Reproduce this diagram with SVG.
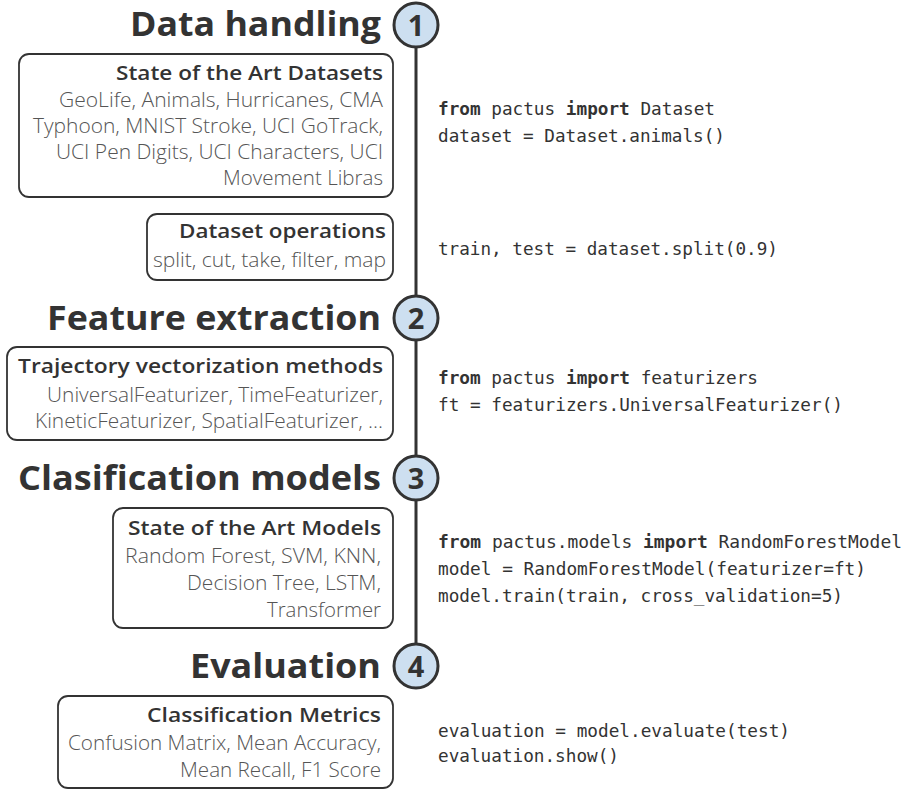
<svg xmlns="http://www.w3.org/2000/svg" width="920" height="791" viewBox="0 0 920 791">
<style>
.title{font-family:"Open Sans","Noto Sans",sans-serif;font-weight:700;font-size:34px;fill:#333;text-anchor:end}
.sub{font-family:"Open Sans","Noto Sans",sans-serif;font-weight:600;font-size:20.5px;fill:#333;text-anchor:end}
.body{font-family:"Open Sans","Noto Sans",sans-serif;font-weight:300;font-size:20px;fill:#555;text-anchor:end}
.box{fill:#fff;stroke:#333;stroke-width:1.8}
.step{fill:#cddff0;stroke:#333;stroke-width:3}
.num{font-family:"Open Sans","Noto Sans",sans-serif;font-weight:700;font-size:29px;fill:#333;text-anchor:middle}
.code{font-family:"DejaVu Sans Mono","Liberation Mono",monospace;font-size:18.5px;fill:#333}
.kw{font-weight:700}
</style>
<rect width="920" height="791" fill="#fff"/>
<g id="connectors">
<line x1="416" y1="25" x2="416" y2="666" stroke="#333" stroke-width="3"/>
</g>
<g id="step1">
<text class="title" x="381" y="36" textLength="251" lengthAdjust="spacingAndGlyphs">Data handling</text>
<circle class="step" cx="416" cy="25" r="22"/>
<text class="num" x="416" y="35.5">1</text>
</g>
<g id="datasets">
<rect class="box" x="19" y="54" width="374" height="143" rx="10"/>
<text class="sub" x="383" y="80" textLength="267" lengthAdjust="spacingAndGlyphs">State of the Art Datasets</text>
<text class="body" x="383" y="107" textLength="324" lengthAdjust="spacingAndGlyphs">GeoLife, Animals, Hurricanes, CMA</text>
<text class="body" x="383" y="133" textLength="350" lengthAdjust="spacingAndGlyphs">Typhoon, MNIST Stroke, UCI GoTrack,</text>
<text class="body" x="383" y="159" textLength="327" lengthAdjust="spacingAndGlyphs">UCI Pen Digits, UCI Characters, UCI</text>
<text class="body" x="383" y="185" textLength="160" lengthAdjust="spacingAndGlyphs">Movement Libras</text>
</g>
<g id="code1">
<text class="code" x="438" y="115" textLength="277" lengthAdjust="spacingAndGlyphs"><tspan class="kw">from</tspan> pactus <tspan class="kw">import</tspan> Dataset</text>
<text class="code" x="438" y="142" textLength="287" lengthAdjust="spacingAndGlyphs">dataset = Dataset.animals()</text>
</g>
<g id="operations">
<rect class="box" x="147" y="214" width="246" height="66" rx="10"/>
<text class="sub" x="386" y="238" textLength="207" lengthAdjust="spacingAndGlyphs">Dataset operations</text>
<text class="body" x="386" y="267" textLength="233" lengthAdjust="spacingAndGlyphs">split, cut, take, filter, map</text>
</g>
<g id="code2">
<text class="code" x="438" y="255" textLength="340" lengthAdjust="spacingAndGlyphs">train, test = dataset.split(0.9)</text>
</g>
<g id="step2">
<text class="title" x="381" y="330" textLength="334" lengthAdjust="spacingAndGlyphs">Feature extraction</text>
<circle class="step" cx="416" cy="318" r="22"/>
<text class="num" x="416" y="328.5">2</text>
</g>
<g id="vectorization">
<rect class="box" x="7" y="347" width="386" height="93" rx="10"/>
<text class="sub" x="383" y="373" textLength="365" lengthAdjust="spacingAndGlyphs">Trajectory vectorization methods</text>
<text class="body" x="383" y="402" textLength="336" lengthAdjust="spacingAndGlyphs">UniversalFeaturizer, TimeFeaturizer,</text>
<text class="body" x="383" y="428" textLength="348" lengthAdjust="spacingAndGlyphs">KineticFeaturizer, SpatialFeaturizer, ...</text>
</g>
<g id="code3">
<text class="code" x="438" y="384" textLength="320" lengthAdjust="spacingAndGlyphs"><tspan class="kw">from</tspan> pactus <tspan class="kw">import</tspan> featurizers</text>
<text class="code" x="438" y="411" textLength="405" lengthAdjust="spacingAndGlyphs">ft = featurizers.UniversalFeaturizer()</text>
</g>
<g id="step3">
<text class="title" x="381" y="490" textLength="363" lengthAdjust="spacingAndGlyphs">Clasification models</text>
<circle class="step" cx="416" cy="478" r="22"/>
<text class="num" x="416" y="488.5">3</text>
</g>
<g id="models">
<rect class="box" x="113" y="508" width="280" height="120" rx="10"/>
<text class="sub" x="381" y="535" textLength="253" lengthAdjust="spacingAndGlyphs">State of the Art Models</text>
<text class="body" x="381" y="563" textLength="256" lengthAdjust="spacingAndGlyphs">Random Forest, SVM, KNN,</text>
<text class="body" x="381" y="590" textLength="194" lengthAdjust="spacingAndGlyphs">Decision Tree, LSTM,</text>
<text class="body" x="381" y="617" textLength="114" lengthAdjust="spacingAndGlyphs">Transformer</text>
</g>
<g id="code4">
<text class="code" x="438" y="548" textLength="464" lengthAdjust="spacingAndGlyphs"><tspan class="kw">from</tspan> pactus.models <tspan class="kw">import</tspan> RandomForestModel</text>
<text class="code" x="438" y="575" textLength="428" lengthAdjust="spacingAndGlyphs">model = RandomForestModel(featurizer=ft)</text>
<text class="code" x="438" y="602" textLength="405" lengthAdjust="spacingAndGlyphs">model.train(train, cross_validation=5)</text>
</g>
<g id="step4">
<text class="title" x="381" y="678" textLength="191" lengthAdjust="spacingAndGlyphs">Evaluation</text>
<circle class="step" cx="416" cy="666" r="22"/>
<text class="num" x="416" y="676.5">4</text>
</g>
<g id="metrics">
<rect class="box" x="58" y="696" width="335" height="92" rx="10"/>
<text class="sub" x="381" y="722" textLength="234" lengthAdjust="spacingAndGlyphs">Classification Metrics</text>
<text class="body" x="381" y="750" textLength="313" lengthAdjust="spacingAndGlyphs">Confusion Matrix, Mean Accuracy,</text>
<text class="body" x="381" y="777" textLength="201" lengthAdjust="spacingAndGlyphs">Mean Recall, F1 Score</text>
</g>
<g id="code5">
<text class="code" x="438" y="737" textLength="352" lengthAdjust="spacingAndGlyphs">evaluation = model.evaluate(test)</text>
<text class="code" x="438" y="762" textLength="181" lengthAdjust="spacingAndGlyphs">evaluation.show()</text>
</g>
</svg>
